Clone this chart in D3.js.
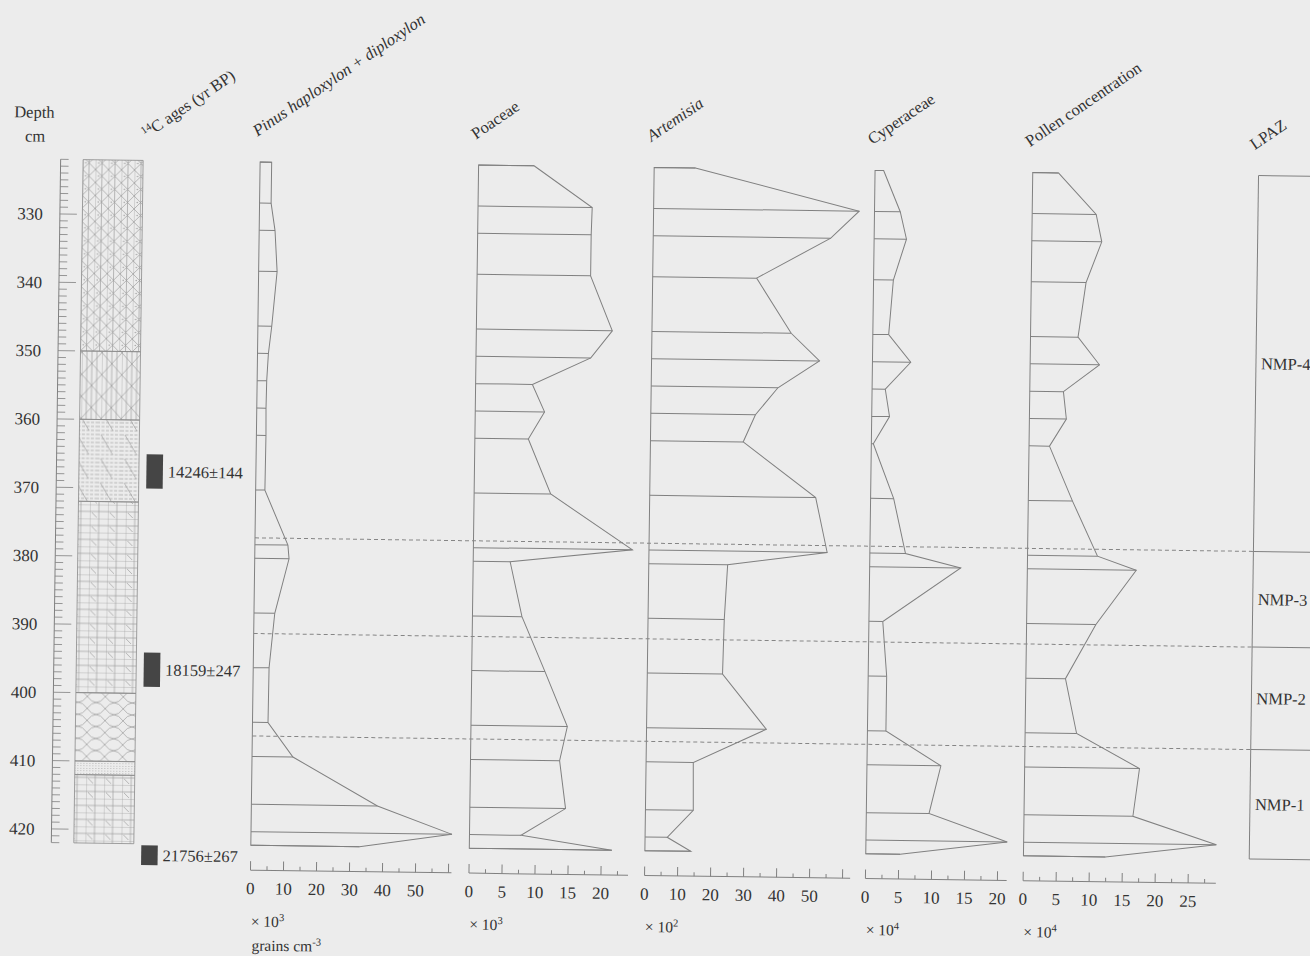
<!DOCTYPE html>
<html>
<head>
<meta charset="utf-8">
<script src="https://cdn.jsdelivr.net/npm/d3@7"></script>
<style>
  body { margin: 0; background: #ececec; }
  svg { display: block; }
  text { font-family: "Liberation Serif", "DejaVu Serif", serif; fill: #333; }
</style>
</head>
<body>
<div id="chart"></div>
<script>
// sample depths (cm) and values
const depths = [322, 328, 332, 338, 346, 350, 354, 358, 362, 370, 378, 380, 388, 396, 404, 409, 416, 420, 422];
const pinus = [3.5, 3.5, 4.8, 5.6, 4.2, 3.3, 2.9, 2.8, 2.9, 2.8, 10.0, 10.4, 6.3, 4.8, 4.7, 12.4, 38.2, 60.9, 32.9];
const poaceae = [8.4, 17.3, 17.2, 17.2, 20.6, 17.4, 8.6, 10.5, 8.1, 11.6, 24.1, 5.6, 7.5, 11.1, 14.6, 13.5, 14.5, 7.8, 21.6];
const artemisia = [12.5, 62.3, 53.8, 31.5, 42.2, 50.9, 38.4, 31.7, 28.1, 50.3, 54.0, 23.9, 23.1, 22.8, 36.3, 14.3, 14.5, 6.7, 13.9];
const cyperaceae = [1.3, 3.9, 4.9, 3.0, 2.4, 5.8, 2.0, 2.7, 0.3, 3.5, 5.4, 13.8, 2.1, 2.8, 2.8, 11.2, 9.5, 21.4, 5.2];
const pollenConc = [3.9, 9.7, 10.6, 8.3, 7.2, 10.5, 5.1, 5.6, 3.1, 6.7, 10.6, 16.5, 10.5, 6.0, 7.8, 17.4, 16.5, 29.2, 12.4];

// tick labels per panel
const pinusTicks = [0, 10, 20, 30, 40, 50];
const poaceaeTicks = [0, 5, 10, 15, 20];
const artemisiaTicks = [0, 10, 20, 30, 40, 50];
const cyperaceaeTicks = [0, 5, 10, 15, 20];
const pollenTicks = [0, 5, 10, 15, 20, 25];

// radiocarbon dates
const ageLabels = ["14246\u00b1144", "18159\u00b1247", "21756\u00b1267"];
const ageTop = [365, 394, 422.2];
const ageBottom = [370, 399, 425.1];

// lithology
const lithTop = [322, 350, 360, 372, 400, 410, 412];
const lithBottom = [350, 360, 372, 400, 410, 412, 422];
const lithType = ["crossDot", "crossWide", "hDash", "grid", "chain", "dots", "grid"];

// zones
const zoneNames = ["NMP-4", "NMP-3", "NMP-2", "NMP-1"];
const zoneTop = [322, 377, 391, 406];
const zoneBottom = [377, 391, 406, 422];

const W = 1310, H = 956;
const lineColor = "#808080";

const svg = d3.select("#chart").append("svg")
    .attr("width", W)
    .attr("height", H);

svg.append("rect").attr("width", W).attr("height", H).attr("fill", "#ececec");

// the scan is slightly tilted
const g = svg.append("g").attr("transform", "rotate(0.78,60,500)");

const y = d3.scaleLinear().domain([330, 420]).range([214, 829]);
const topD = 322, botD = 422;
const axisY = 867.5;

// ---- patterns
const defs = svg.append("defs");
const pat = (id, w, h) => defs.append("pattern")
    .attr("id", id).attr("patternUnits", "userSpaceOnUse")
    .attr("width", w).attr("height", h);
const pstroke = sel => sel.attr("fill", "none").attr("stroke", "#969696").attr("stroke-width", 0.65);

let p = pat("crossDot", 13, 13);
pstroke(p.append("path").attr("d", "M0,0V13M6.5,0V13M0,0L13,13M13,0L0,13"));
p.append("circle").attr("cx", 3.2).attr("cy", 6.5).attr("r", 0.7).attr("fill", "#999");

p = pat("crossWide", 20, 22);
pstroke(p.append("path").attr("d", "M0,0V22M5,0V22M10,0V22M15,0V22M0,0L20,22M20,0L0,22"));

p = pat("hDash", 24, 24);
pstroke(p.append("path").attr("d", d3.range(2, 24, 4).map(v => `M0,${v}H24`).join(""))
    .attr("stroke-dasharray", "3,1.5"));
pstroke(p.append("path").attr("d", "M4,2L16,22"));

p = pat("grid", 18, 14);
pstroke(p.append("path").attr("d", "M0,0V14M9,0V14M0,0H18M0,7H18M2,8L7,13"));

p = pat("chain", 18, 12);
pstroke(p.append("path").attr("d", "M0,0Q9,12 18,0M0,12Q9,0 18,12"));

p = pat("dots", 3, 2.5);
p.append("rect").attr("width", 1).attr("height", 0.6).attr("fill", "#999");

// ---- depth axis
const depthAxisX = 56;
g.append("line")
    .attr("x1", depthAxisX).attr("x2", depthAxisX)
    .attr("y1", y(topD)).attr("y2", y(botD))
    .attr("stroke", lineColor);

g.selectAll(".dtick")
    .data(d3.range(topD, botD + 1))
    .join("line")
    .attr("class", "dtick")
    .attr("x1", depthAxisX)
    .attr("x2", d => depthAxisX + (d % 10 === 0 ? 17 : 8))
    .attr("y1", d => y(d)).attr("y2", d => y(d))
    .attr("stroke", lineColor).attr("stroke-width", 0.8);

g.selectAll(".dlabel")
    .data(d3.range(330, 421, 10))
    .join("text")
    .attr("class", "dlabel")
    .attr("x", 39).attr("y", d => y(d))
    .attr("dy", "0.35em")
    .attr("text-anchor", "end")
    .attr("font-size", 17)
    .text(d => d);

g.append("text").attr("x", 9).attr("y", 118).attr("font-size", 16.5).text("Depth");
g.append("text").attr("x", 20).attr("y", 142).attr("font-size", 16.5).text("cm");

// ---- lithology column
const lithX0 = 78.5, lithX1 = 138.5;
g.selectAll(".lith")
    .data(lithType)
    .join("rect")
    .attr("class", "lith")
    .attr("x", lithX0)
    .attr("width", lithX1 - lithX0)
    .attr("y", (d, i) => y(lithTop[i]))
    .attr("height", (d, i) => y(lithBottom[i]) - y(lithTop[i]))
    .attr("fill", d => `url(#${d})`)
    .attr("stroke", "#8a8a8a")
    .attr("stroke-width", 0.8);

// ---- 14C ages
g.selectAll(".age")
    .data(ageLabels)
    .join("rect")
    .attr("class", "age")
    .attr("x", 146).attr("width", 16.5)
    .attr("y", (d, i) => y(ageTop[i]))
    .attr("height", (d, i) => y(ageBottom[i]) - y(ageTop[i]))
    .attr("fill", "#454545");

g.selectAll(".agelabel")
    .data(ageLabels)
    .join("text")
    .attr("class", "agelabel")
    .attr("x", 167.5)
    .attr("y", (d, i) => y((ageTop[i] + ageBottom[i]) / 2))
    .attr("dy", "0.35em")
    .attr("font-size", 16.5)
    .text(d => d);

const ageTitle = g.append("text")
    .attr("transform", "translate(142,138) rotate(-35)")
    .attr("font-size", 16.5);
ageTitle.append("tspan").attr("font-size", 10.5).attr("dy", -6).text("14");
ageTitle.append("tspan").attr("dy", 6).text("C ages (yr BP)");

// ---- pollen panels
const panels = [
    { name: "Pinus haploxylon + diploxylon", italic: true, values: pinus, ticks: pinusTicks,
      x0: 255.5, ppu: 3.3, step: 5, major: 10, exp: "3", unit: true },
    { name: "Poaceae", italic: false, values: poaceae, ticks: poaceaeTicks,
      x0: 474, ppu: 6.6, step: 2.5, major: 5, exp: "3" },
    { name: "Artemisia", italic: true, values: artemisia, ticks: artemisiaTicks,
      x0: 649.6, ppu: 3.3, step: 5, major: 10, exp: "2" },
    { name: "Cyperaceae", italic: false, values: cyperaceae, ticks: cyperaceaeTicks,
      x0: 870.5, ppu: 6.6, step: 2.5, major: 5, exp: "4" },
    { name: "Pollen  concentration", italic: false, values: pollenConc, ticks: pollenTicks,
      x0: 1028.2, ppu: 6.6, step: 2.5, major: 5, exp: "4" }
];

panels.forEach(pn => {
    const maxV = d3.max(pn.values);
    const x = d3.scaleLinear().domain([0, 1]).range([pn.x0, pn.x0 + pn.ppu]);
    const pg = g.append("g");

    const area = d3.area()
        .y((d, i) => y(depths[i]))
        .x0(x(0))
        .x1(d => x(d));

    pg.append("path")
        .datum(pn.values)
        .attr("d", area)
        .attr("fill", "none")
        .attr("stroke", lineColor)
        .attr("stroke-width", 1);

    pg.selectAll(".sample")
        .data(pn.values)
        .join("line")
        .attr("class", "sample")
        .attr("x1", x(0)).attr("x2", d => x(d))
        .attr("y1", (d, i) => y(depths[i])).attr("y2", (d, i) => y(depths[i]))
        .attr("stroke", lineColor).attr("stroke-width", 1);

    // bottom axis
    pg.append("line")
        .attr("x1", x(0)).attr("x2", x(maxV))
        .attr("y1", axisY).attr("y2", axisY)
        .attr("stroke", lineColor);

    const tickVals = d3.range(0, maxV + 0.01, pn.step);
    pg.selectAll(".xtick")
        .data(tickVals)
        .join("line")
        .attr("class", "xtick")
        .attr("x1", d => x(d)).attr("x2", d => x(d))
        .attr("y1", axisY)
        .attr("y2", d => axisY - (Math.abs(d / pn.major - Math.round(d / pn.major)) < 1e-6 ? 9 : 4))
        .attr("stroke", lineColor);

    pg.selectAll(".xlabel")
        .data(pn.ticks)
        .join("text")
        .attr("class", "xlabel")
        .attr("x", d => x(d)).attr("y", axisY + 24)
        .attr("text-anchor", "middle")
        .attr("font-size", 17)
        .text(d => d);

    const mult = pg.append("text")
        .attr("x", x(0) + 1).attr("y", 924)
        .attr("font-size", 15.5);
    mult.append("tspan").text("\u00d7 10");
    mult.append("tspan").attr("font-size", 10.5).attr("dy", -6).text(pn.exp);

    if (pn.unit) {
        const u = pg.append("text")
            .attr("x", x(0) + 2).attr("y", 948)
            .attr("font-size", 15.5);
        u.append("tspan").text("grains cm");
        u.append("tspan").attr("font-size", 10.5).attr("dy", -6).text("-3");
    }

    pg.append("text")
        .attr("transform", `translate(${x(0) - 3},134) rotate(-35)`)
        .attr("font-size", 16.5)
        .attr("font-style", pn.italic ? "italic" : "normal")
        .text(pn.name);
});

// ---- zone boundaries (dashed) and LPAZ column
const lpazX = 1254;
g.selectAll(".zline")
    .data(zoneTop.slice(1))
    .join("line")
    .attr("class", "zline")
    .attr("x1", panels[0].x0).attr("x2", lpazX)
    .attr("y1", d => y(d)).attr("y2", d => y(d))
    .attr("stroke", "#858585")
    .attr("stroke-width", 1)
    .attr("stroke-dasharray", "4,3");

g.append("line")
    .attr("x1", lpazX).attr("x2", lpazX)
    .attr("y1", y(topD)).attr("y2", y(botD))
    .attr("stroke", lineColor);

g.selectAll(".zedge")
    .data(zoneTop.concat([botD]))
    .join("line")
    .attr("class", "zedge")
    .attr("x1", lpazX).attr("x2", lpazX + 80)
    .attr("y1", d => y(d)).attr("y2", d => y(d))
    .attr("stroke", lineColor);

g.selectAll(".zname")
    .data(zoneNames)
    .join("text")
    .attr("class", "zname")
    .attr("x", lpazX + 5)
    .attr("y", (d, i) => y((zoneTop[i] + zoneBottom[i]) / 2))
    .attr("dy", "0.35em")
    .attr("font-size", 16.5)
    .text(d => d);

g.append("text")
    .attr("transform", `translate(${lpazX - 4},134) rotate(-35)`)
    .attr("font-size", 16.5)
    .text("LPAZ");
</script>
</body>
</html>
